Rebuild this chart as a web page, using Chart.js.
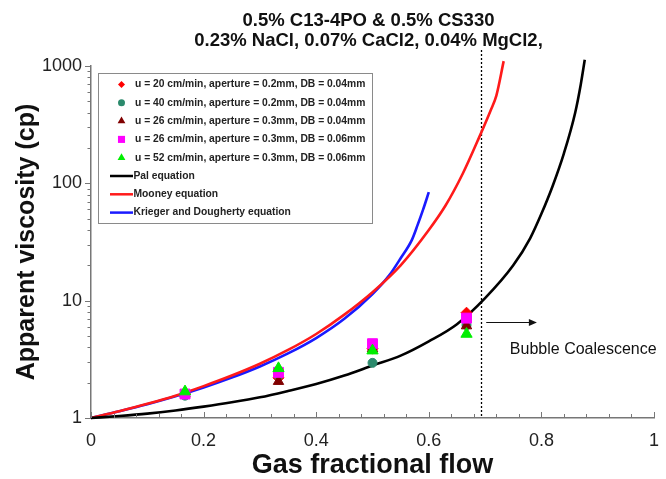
<!DOCTYPE html>
<html><head><meta charset="utf-8">
<script src="https://cdn.jsdelivr.net/npm/chart.js@4.4.1/dist/chart.umd.min.js"></script>
<style>html,body{margin:0;padding:0;background:#fff}#wrap{width:666px;height:479px}</style>
</head><body><div id="wrap"><canvas id="c" width="666" height="479"></canvas></div>
<script>
// ---- text ----
const titleLines = ['0.5% C13-4PO & 0.5% CS330', '0.23% NaCl, 0.07% CaCl2, 0.04% MgCl2,'];
const xAxisTitle = 'Gas fractional flow';
const yAxisTitle = 'Apparent viscosity (cp)';
const annotationText = 'Bubble Coalescence';
const seriesLabels = [
  'u = 20 cm/min, aperture = 0.2mm, DB = 0.04mm',
  'u = 40 cm/min, aperture = 0.2mm, DB = 0.04mm',
  'u = 26 cm/min, aperture = 0.3mm, DB = 0.04mm',
  'u = 26 cm/min, aperture = 0.3mm, DB = 0.06mm',
  'u = 52 cm/min, aperture = 0.3mm, DB = 0.06mm',
  'Pal equation',
  'Mooney equation',
  'Krieger and Dougherty equation'
];
// ---- ticks ----
const xTickValues = [0, 0.2, 0.4, 0.6, 0.8, 1];
const yTickValues = [1, 10, 100, 1000];
// ---- experimental data ----
const expFlow = [0.167, 0.333, 0.5, 0.667];
const viscU20A02DB004 = [1.6, 2.2, 3.9, 7.9];
const viscU40A02DB004 = [1.55, 2.3, 2.95, 6.2];
const viscU26A03DB004 = [1.6, 2.05, 3.9, 6.1];
const viscU26A03DB006 = [1.6, 2.45, 4.3, 7.1];
const viscU52A03DB006 = [1.68, 2.65, 3.75, 5.2];
// ---- model curves ----
const palFlow = [0, 0.05, 0.1, 0.15, 0.2, 0.25, 0.3, 0.35, 0.4, 0.45, 0.5, 0.55, 0.6, 0.65, 0.7, 0.75, 0.78, 0.8, 0.82, 0.84, 0.86, 0.87, 0.877];
const palVisc = [1, 1.04, 1.09, 1.16, 1.25, 1.36, 1.5, 1.7, 1.95, 2.3, 2.8, 3.4, 4.5, 6.3, 10.5, 20, 34, 55, 95, 180, 400, 700, 1130];
const mooneyFlow = [0, 0.05, 0.1, 0.15, 0.2, 0.25, 0.3, 0.35, 0.4, 0.45, 0.5, 0.55, 0.6, 0.63, 0.66, 0.69, 0.71, 0.72, 0.733];
const mooneyVisc = [1, 1.14, 1.32, 1.55, 1.87, 2.3, 2.9, 3.8, 5.2, 7.6, 11.8, 20, 40, 65, 120, 250, 420, 560, 1100];
const kdFlow = [0, 0.05, 0.1, 0.15, 0.2, 0.25, 0.3, 0.35, 0.4, 0.45, 0.5, 0.53, 0.55, 0.57, 0.58, 0.59, 0.6];
const kdVisc = [1, 1.14, 1.31, 1.53, 1.82, 2.21, 2.75, 3.55, 4.8, 7.0, 11.4, 16.5, 23, 33, 44, 60, 84];
// ---- annotation anchors (data units) ----
const coalescenceFlow = 0.692;
const arrowFrom = [0.702, 6.6];
const arrowTo = [0.792, 6.6];
const annotationAt = [0.744, 3.8];

const FONT = "Arial, 'Liberation Sans', Helvetica, sans-serif";
const pts = (xs, ys) => xs.map((x, i) => ({x, y: ys[i]}));

function pointSet(i, data, style, color, r, order) {
  return {type: 'line', label: seriesLabels[i], data: pts(expFlow, data), showLine: false,
    pointStyle: style, pointRadius: r, pointBackgroundColor: color, pointBorderColor: color,
    pointBorderWidth: 1, backgroundColor: color, borderColor: color, order};
}
function lineSet(i, xs, ys, color, order) {
  return {type: 'line', label: seriesLabels[i], data: pts(xs, ys), borderColor: color, backgroundColor: color,
    borderWidth: 2.6, pointRadius: 0, cubicInterpolationMode: 'monotone', clip: false, order};
}

const datasets = [
  pointSet(0, viscU20A02DB004, 'rectRot', '#ff0000', 5.5, 5),
  pointSet(1, viscU40A02DB004, 'circle', '#2b8a6c', 4.5, 4),
  pointSet(2, viscU26A03DB004, 'triangle', '#800000', 6, 3),
  pointSet(3, viscU26A03DB006, 'rect', '#ff00ff', 7, 2),
  pointSet(4, viscU52A03DB006, 'triangle', '#00ee00', 6.5, 1),
  lineSet(5, palFlow, palVisc, '#000000', 6),
  lineSet(6, mooneyFlow, mooneyVisc, '#ff1a1a', 7),
  lineSet(7, kdFlow, kdVisc, '#1a1aff', 8)
];

function drawMarker(ctx, style, x, y, r, color) {
  ctx.save();
  ctx.fillStyle = color;
  ctx.beginPath();
  if (style === 'circle') { ctx.arc(x, y, r, 0, Math.PI * 2); }
  else if (style === 'rect') { const s = r * Math.SQRT1_2; ctx.rect(x - s, y - s, 2 * s, 2 * s); }
  else if (style === 'rectRot') { ctx.moveTo(x, y - r); ctx.lineTo(x + r, y); ctx.lineTo(x, y + r); ctx.lineTo(x - r, y); ctx.closePath(); }
  else if (style === 'triangle') { ctx.moveTo(x, y - r); ctx.lineTo(x + r * 0.866, y + r * 0.5); ctx.lineTo(x - r * 0.866, y + r * 0.5); ctx.closePath(); }
  ctx.fill();
  ctx.restore();
}

const decor = {
  id: 'decor',
  beforeDatasetsDraw(chart) {
    const {ctx, scales: {x}, chartArea: ca} = chart;
    ctx.save();
    ctx.strokeStyle = '#000'; ctx.lineWidth = 1.3; ctx.setLineDash([2, 2]);
    const px = Math.round(x.getPixelForValue(coalescenceFlow)) + 0.5;
    ctx.beginPath(); ctx.moveTo(px, ca.top - 16); ctx.lineTo(px, ca.bottom); ctx.stroke();
    ctx.restore();
  },
  afterDraw(chart) {
    const {ctx, scales: {x, y}, chartArea: ca} = chart;
    ctx.save();
    ctx.strokeStyle = '#777'; ctx.lineWidth = 1;
    ctx.beginPath();
    for (let d = 0; d < 3; d++) for (let k = 1; k <= 9; k++) {
      const v = k * Math.pow(10, d); const py = Math.round(y.getPixelForValue(v)) + 0.5;
      const len = k === 1 ? 6 : 3.5;
      ctx.moveTo(ca.left - len, py); ctx.lineTo(ca.left, py);
    }
    { const py = Math.round(y.getPixelForValue(1000)) + 0.5; ctx.moveTo(ca.left - 6, py); ctx.lineTo(ca.left, py); }
    for (let i = 0; i <= 25; i++) {
      const v = i * 0.04; const pxx = Math.round(x.getPixelForValue(v)) + 0.5;
      const len = i % 5 === 0 ? 6 : 4;
      ctx.moveTo(pxx, ca.bottom); ctx.lineTo(pxx, ca.bottom - len);
    }
    ctx.stroke();

    const ax0 = x.getPixelForValue(arrowFrom[0]), ay = Math.round(y.getPixelForValue(arrowFrom[1])) + 0.5;
    const ax1 = x.getPixelForValue(arrowTo[0]);
    ctx.strokeStyle = '#111'; ctx.fillStyle = '#111'; ctx.lineWidth = 1.2;
    ctx.beginPath(); ctx.moveTo(ax0, ay); ctx.lineTo(ax1 - 6, ay); ctx.stroke();
    ctx.beginPath(); ctx.moveTo(ax1, ay); ctx.lineTo(ax1 - 8, ay - 3.5); ctx.lineTo(ax1 - 8, ay + 3.5); ctx.closePath(); ctx.fill();
    ctx.font = '16px ' + FONT; ctx.fillStyle = '#111'; ctx.textAlign = 'left'; ctx.textBaseline = 'middle';
    ctx.fillText(annotationText, x.getPixelForValue(annotationAt[0]), y.getPixelForValue(annotationAt[1]));

    ctx.font = 'bold 18.5px ' + FONT; ctx.fillStyle = '#111'; ctx.textAlign = 'center'; ctx.textBaseline = 'alphabetic';
    const cx = (ca.left + ca.right) / 2 - 4;
    ctx.fillText(titleLines[0], cx, 25.5);
    ctx.fillText(titleLines[1], cx, 45.5);

    const bx = ca.left + 7, by = ca.top + 6.5, bw = 274, bh = 150;
    ctx.fillStyle = '#fff'; ctx.fillRect(bx, by, bw, bh);
    ctx.strokeStyle = '#8a8a8a'; ctx.lineWidth = 1;
    ctx.strokeRect(Math.round(bx) + 0.5, Math.round(by) + 0.5, bw, bh);
    ctx.font = 'bold 10.3px ' + FONT; ctx.textBaseline = 'middle'; ctx.textAlign = 'left';
    chart.data.datasets.forEach((ds, i) => {
      const ry = by + 12 + i * 18.3;
      if (ds.showLine === false) {
        const r = ds.pointStyle === 'triangle' ? 4.5 : ds.pointStyle === 'rect' ? 5 : 3.5;
        drawMarker(ctx, ds.pointStyle, bx + 23.5, ry, r, ds.pointBackgroundColor);
        ctx.fillStyle = '#222'; ctx.fillText(ds.label, bx + 37, ry);
      } else {
        ctx.strokeStyle = ds.borderColor; ctx.lineWidth = 2.5;
        ctx.beginPath(); ctx.moveTo(bx + 12, ry); ctx.lineTo(bx + 35, ry); ctx.stroke();
        ctx.fillStyle = '#222'; ctx.fillText(ds.label, bx + 35.5, ry);
      }
    });
    ctx.restore();
  }
};

new Chart(document.getElementById('c'), {
  data: {datasets},
  plugins: [decor],
  options: {
    responsive: false, animation: false, devicePixelRatio: 1,
    layout: {padding: {top: 66, right: 12, left: 0, bottom: 0}},
    plugins: {legend: {display: false}, title: {display: false}, tooltip: {enabled: false}},
    scales: {
      x: {
        type: 'linear', min: 0, max: 1,
        afterFit(s) { s.height = 61; },
        afterBuildTicks(s) { s.ticks = xTickValues.map(v => ({value: v})); },
        ticks: {font: {size: 18, family: FONT}, color: '#222', padding: 6, maxRotation: 0, autoSkip: false, callback: v => String(v)},
        grid: {display: true, drawOnChartArea: false, drawTicks: true, tickLength: 6, color: 'rgba(0,0,0,0)'},
        border: {display: true, color: '#777', width: 1.5},
        title: {display: true, text: xAxisTitle, color: '#111', font: {size: 27, weight: 'bold', family: FONT, lineHeight: 1}, padding: {top: 0, bottom: 0}}
      },
      y: {
        type: 'logarithmic', min: 1, max: 1000,
        afterFit(s) { s.width = 91; },
        afterBuildTicks(s) { s.ticks = yTickValues.map(v => ({value: v})); },
        ticks: {font: {size: 18, family: FONT}, color: '#222', padding: 3, autoSkip: false, callback: v => String(v)},
        grid: {display: true, drawOnChartArea: false, drawTicks: true, tickLength: 6, color: 'rgba(0,0,0,0)'},
        border: {display: true, color: '#777', width: 1.5},
        title: {display: true, text: yAxisTitle, color: '#111', font: {size: 25, weight: 'bold', family: FONT, lineHeight: 1}, padding: {top: 14.5, bottom: 0}}
      }
    }
  }
});
</script></body></html>
